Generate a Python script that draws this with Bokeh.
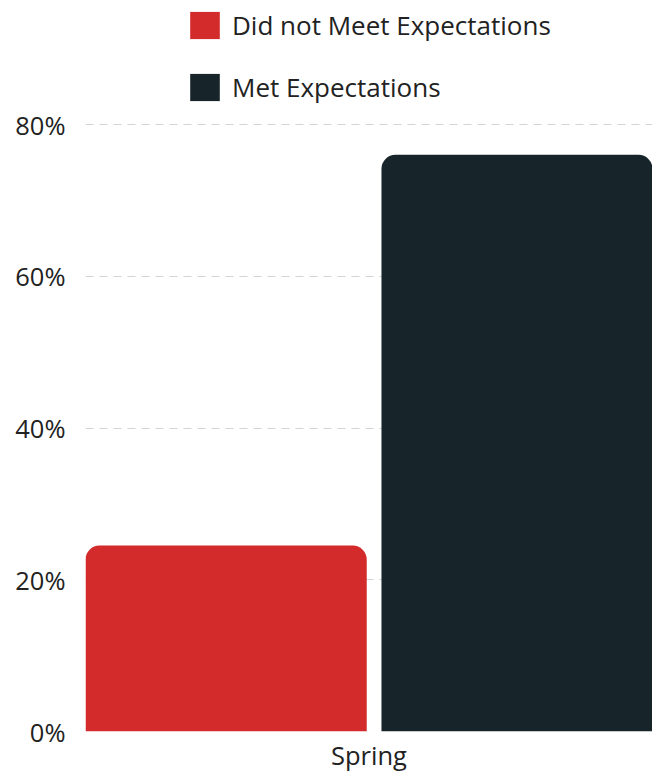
from bokeh.plotting import figure
from bokeh.models import (FactorRange, Range1d, FixedTicker, NumeralTickFormatter,
                          Legend, LegendItem, ColumnDataSource)
from bokeh.transform import dodge
from bokeh.embed import file_html
from bokeh.resources import INLINE

# ---- data ----
categories = ["Spring"]
series_names = ["Did not Meet Expectations", "Met Expectations"]
did_not_meet = [0.245]
met = [0.76]
y_ticks = [0, 0.2, 0.4, 0.6, 0.8]

colors = ["#d32a2b", "#17252a"]
FONT = "Open Sans"
TEXT = "#222222"

source = ColumnDataSource(data=dict(x=categories, dnm=did_not_meet, met=met))

# frame spans from the top of the page down to the 0% baseline;
# the 80% gridline sits 124px below the top
FRAME_H = 731
y_top = 0.8 * FRAME_H / (FRAME_H - 124)

p = figure(frame_width=567, frame_height=FRAME_H,
           x_range=FactorRange(*categories, range_padding=0),
           y_range=Range1d(0, y_top), output_backend="svg", toolbar_location=None,
           min_border_left=85, min_border_right=0, min_border_top=0,
           min_border_bottom=36)
p.outline_line_color = None
p.background_fill_color = "white"
p.border_fill_color = "white"

r1 = p.vbar(x=dodge("x", -0.252, range=p.x_range), top="dnm", width=0.496,
            source=source, fill_color=colors[0], line_color=None,
            border_radius=(14, 14, 0, 0))
r2 = p.vbar(x=dodge("x", 0.261, range=p.x_range), top="met", width=0.478,
            source=source, fill_color=colors[1], line_color=None,
            border_radius=(14, 14, 0, 0))

# axes
p.yaxis.ticker = FixedTicker(ticks=y_ticks)
p.yaxis.formatter = NumeralTickFormatter(format="0%")
for ax in (p.xaxis[0], p.yaxis[0]):
    ax.axis_line_color = None
    ax.major_tick_line_color = None
    ax.minor_tick_line_color = None
    ax.major_tick_out = 0
    ax.major_tick_in = 0
    ax.minor_tick_out = 0
    ax.major_label_text_font = FONT
    ax.major_label_text_font_size = "25.5px"
    ax.major_label_text_color = TEXT
p.yaxis.major_label_standoff = 20
p.xaxis.major_label_standoff = 6

p.xgrid.grid_line_color = None
p.ygrid.ticker = FixedTicker(ticks=y_ticks)
p.ygrid.grid_line_color = "#d4d4d4"
p.ygrid.grid_line_dash = "8 6"
p.ygrid.grid_line_width = 1

legend = Legend(items=[LegendItem(label=series_names[0], renderers=[r1]),
                       LegendItem(label=series_names[1], renderers=[r2])],
                location=(101, 626), orientation="vertical",
                glyph_width=37, glyph_height=34, label_height=34,
                label_standoff=9, spacing=26, padding=0, margin=0,
                border_line_color=None, background_fill_alpha=0,
                label_text_font=FONT, label_text_font_size="26px",
                label_text_color=TEXT)
p.add_layout(legend, "center")

open("out.html", "w").write(file_html(p, INLINE))
